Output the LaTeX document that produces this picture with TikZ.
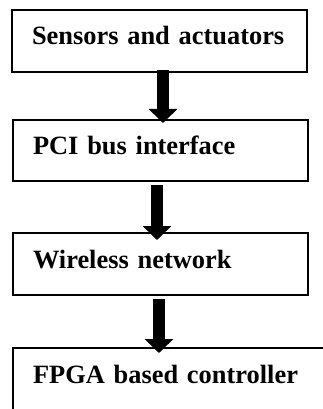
\documentclass[tikz,border=0pt]{standalone}
\usepackage{fontspec}
\setmainfont{Liberation Serif}
\usetikzlibrary{calc,arrows.meta}
\begin{document}
\begin{tikzpicture}[x=1pt,y=-1pt,
  box/.style={draw=black, line width=2pt, rectangle, anchor=north west, outer sep=0pt,
    inner xsep=20pt, inner ysep=0pt, align=left, text height=18pt, text depth=10pt,
    font=\fontsize{26.4}{30}\selectfont\bfseries},
  bigarrow/.style={line width=12.5pt, -{Triangle[width=28pt,length=14pt]}}]
\useasboundingbox (0,0) rectangle (323,409);
\clip (0,0) rectangle (323,409);
\node[box, minimum width=295pt, minimum height=62pt, text width=255pt] (b1) at (12,10) {Sensors and actuators};
\node[box, minimum width=295pt, minimum height=61pt, text width=255pt] (b2) at (13,120) {PCI bus interface};
\node[box, minimum width=295pt, minimum height=62pt, text width=255pt] (b3) at (13,233) {Wireless network};
\node[box, minimum width=330pt, minimum height=62pt, text width=290pt] (b4) at (13,348) {FPGA based controller};
\coordinate (s1) at ($(b1.south)+(3.5,-2)$);
\coordinate (e1) at ($(s1 |- b2.north)+(0,3)$);
\coordinate (s2) at ($(b2.south)+(-3.5,4)$);
\coordinate (e2) at ($(s2 |- b3.north)+(0,7)$);
\coordinate (s3) at ($(b3.south)+(-1.5,4)$);
\coordinate (e3) at ($(s3 |- b4.north)+(0,5)$);
\draw[bigarrow] (s1) -- (e1);
\draw[bigarrow] (s2) -- (e2);
\draw[bigarrow] (s3) -- (e3);
\end{tikzpicture}
\end{document}
